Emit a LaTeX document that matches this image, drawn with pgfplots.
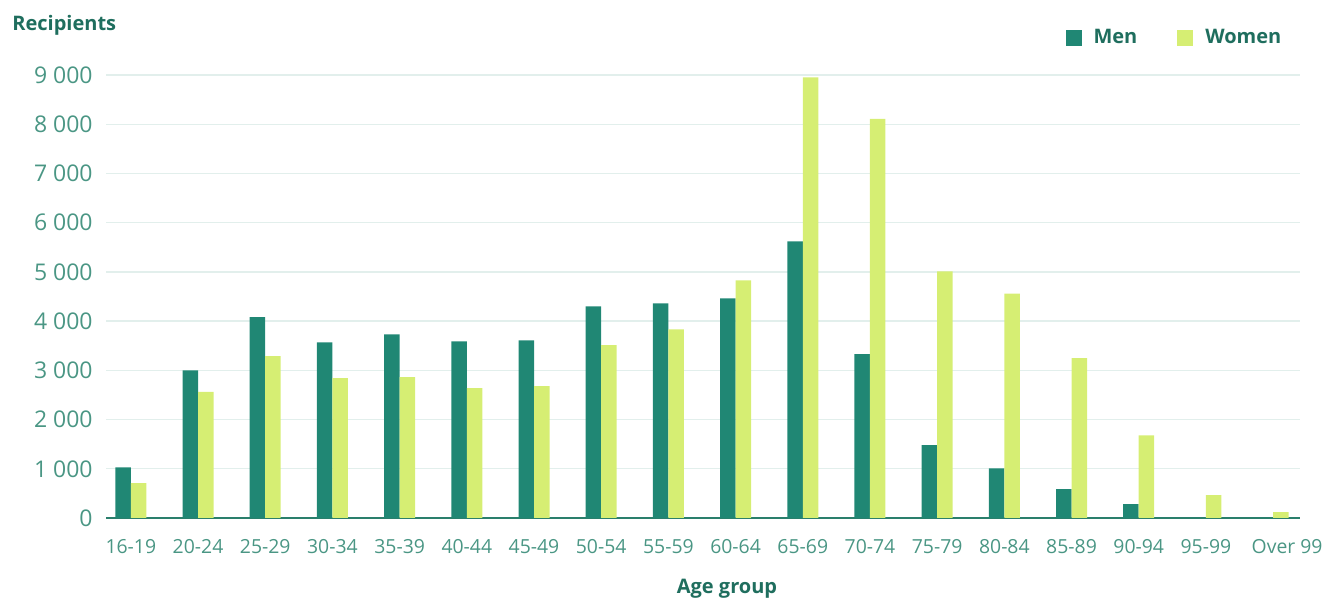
\documentclass[border=0pt]{standalone}
\usepackage{fontspec}
\setmainfont{Open Sans}
\usepackage{pgfplots}
\pgfplotsset{compat=1.18}
\definecolor{men}{HTML}{208774}
\definecolor{women}{HTML}{D6EE73}
\definecolor{ticktxt}{HTML}{4A9684}
\definecolor{labtxt}{HTML}{1F6E5E}
\definecolor{gridc}{HTML}{E2EFEC}
\definecolor{axisc}{HTML}{2A7F6C}
\begin{document}
\begin{tikzpicture}
\path[use as bounding box] (-53pt,-40.5pt) rectangle (616pt,259pt);
\begin{axis}[
  at={(0,0)}, anchor=south west,
  scale only axis, width=597pt, height=221.5pt,
  xmin=-0.37, xmax=17.4, ymin=0, ymax=9000,
  ybar=0pt, bar width=7.75pt,
  axis x line*=bottom, axis y line*=left,
  y axis line style={draw=none},
  x axis line style={draw=axisc, line width=1pt},
  major tick length=0pt,
  xtick=data,
  xticklabels={16-19,20-24,25-29,30-34,35-39,40-44,45-49,50-54,55-59,60-64,65-69,70-74,75-79,80-84,85-89,90-94,95-99,{\hspace*{14pt}Over 99}},
  ytick={0,1000,...,9000},
  ymajorgrids, grid style={draw=gridc, line width=0.7pt},
  /pgf/number format/assume math mode=true,
  /pgf/number format/1000 sep={\ },
  yticklabel style={font=\fontsize{11.5}{13}\selectfont, text=ticktxt, inner sep=0pt, xshift=-6.5pt},
  xticklabel style={font=\fontsize{9.7}{11}\selectfont, text=ticktxt, inner sep=0pt, yshift=-10.5pt},
  legend style={at={(0.993,1.122)}, anchor=north east, draw=none, fill=none,
    font=\bfseries\fontsize{10}{12}\selectfont, text=labtxt, legend columns=2,
    /tikz/every odd column/.append style={column sep=4pt},
    /tikz/every even column/.append style={column sep=18pt}},
  legend image code/.code={\fill[#1] (0pt,-4pt) rectangle (8pt,4pt);},
]
\addplot[fill=men, draw=none] coordinates {
(0,1030) (1,3000) (2,4080) (3,3570) (4,3730) (5,3590) (6,3610) (7,4300) (8,4360)
(9,4460) (10,5620) (11,3330) (12,1480) (13,1010) (14,585) (15,284) (16,0) (17,0)};
\addplot[fill=women, draw=none] coordinates {
(0,710) (1,2560) (2,3290) (3,2840) (4,2860) (5,2640) (6,2680) (7,3510) (8,3830)
(9,4830) (10,8950) (11,8110) (12,5010) (13,4560) (14,3250) (15,1680) (16,466) (17,120)};
\legend{Men,Women}
\end{axis}
\node[anchor=west, font=\bfseries\fontsize{10}{12}\selectfont, text=labtxt, inner sep=0pt] at (-47pt,246.5pt) {Recipients};
\node[font=\bfseries\fontsize{10}{12}\selectfont, text=labtxt, inner sep=0pt] at (310.5pt,-35.5pt) {Age group};
\end{tikzpicture}
\end{document}
